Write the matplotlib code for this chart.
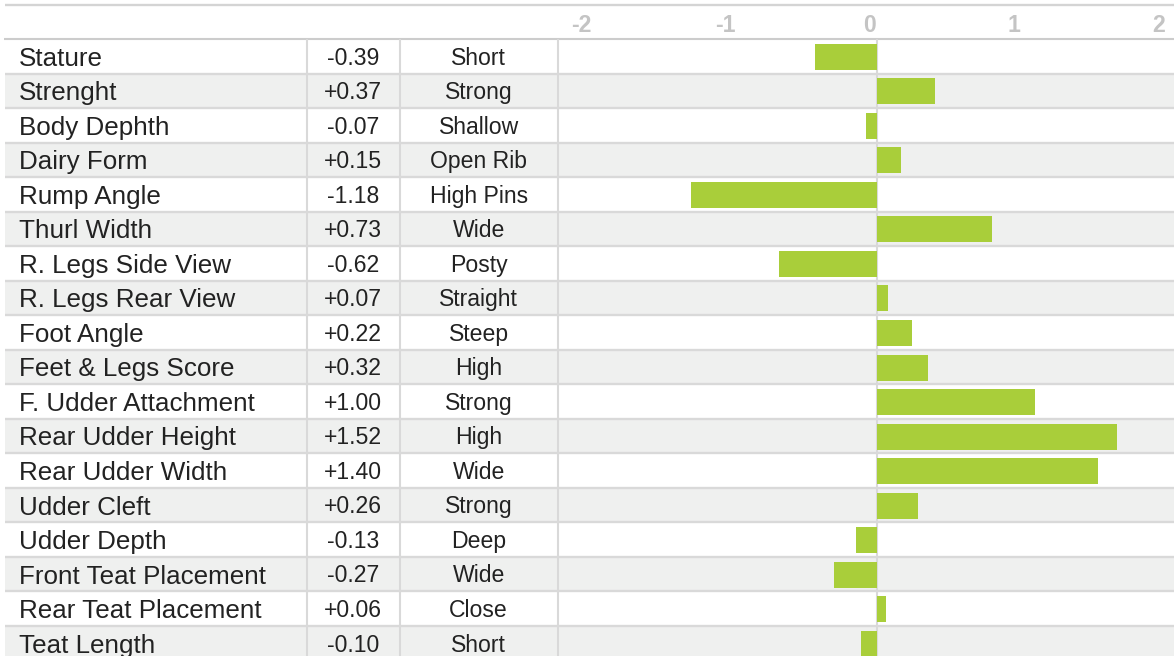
import matplotlib.pyplot as plt

plt.rcParams['font.family'] = ['Liberation Sans', 'DejaVu Sans']

# 数据
traits = ['Stature', 'Strenght', 'Body Dephth', 'Dairy Form', 'Rump Angle',
          'Thurl Width', 'R. Legs Side View', 'R. Legs Rear View', 'Foot Angle',
          'Feet & Legs Score', 'F. Udder Attachment', 'Rear Udder Height',
          'Rear Udder Width', 'Udder Cleft', 'Udder Depth',
          'Front Teat Placement', 'Rear Teat Placement', 'Teat Length']
values = [-0.39, 0.37, -0.07, 0.15, -1.18, 0.73, -0.62, 0.07, 0.22,
          0.32, 1.00, 1.52, 1.40, 0.26, -0.13, -0.27, 0.06, -0.10]
descriptors = ['Short', 'Strong', 'Shallow', 'Open Rib', 'High Pins', 'Wide',
               'Posty', 'Straight', 'Steep', 'High', 'Strong', 'High', 'Wide',
               'Strong', 'Deep', 'Wide', 'Close', 'Short']
scale_ticks = [-2, -1, 0, 1, 2]

# 版式（像素）
W, H = 1174, 656
TOP = 39          # 表头下边线
ROW_H = 34.53
COL1, COL2, COL3 = 307, 399.5, 558
ZERO_PX = 877
PX_PER_UNIT = 158
BAR_COLOR = '#a9ce3a'
BAND = '#eff0ef'
GRID = '#d9d9d9'
TXT = '#222222'

fig = plt.figure(figsize=(W / 100, H / 100), dpi=100)

# 表格部分
ax = fig.add_axes([0, 0, 1, 1])
ax.set_xlim(0, W)
ax.set_ylim(H, 0)
ax.axis('off')

for i, (name, v, d) in enumerate(zip(traits, values, descriptors)):
    top = TOP + ROW_H * i
    if i % 2 == 1:
        ax.fill_between([5, W], top, top + ROW_H, color=BAND, lw=0, zorder=0)
    c = top + ROW_H / 2
    ax.text(19, c + 0.36 * 26, name, fontsize=18.7, color=TXT, va='baseline', ha='left')
    ax.text((COL1 + COL2) / 2, c + 0.36 * 23, f'{v:+.2f}', fontsize=16.6,
            color=TXT, va='baseline', ha='center')
    ax.text((COL2 + COL3) / 2, c + 0.36 * 23, d, fontsize=16.6,
            color=TXT, va='baseline', ha='center')
    if i > 0:
        ax.hlines(top, 5, W, color=GRID, lw=1.7, zorder=1)

ax.hlines(4.5, 5, W, color='#d4d4d4', lw=1.7, zorder=1)
ax.hlines(TOP, 4, W, color='#cccccc', lw=1.5, zorder=1)
ax.vlines([COL1, COL2, COL3], TOP, H, color=GRID, lw=1.5, zorder=1)

# 条形图部分
bx = fig.add_axes([COL3 / W, 0, (W - COL3) / W, 1])
bx.patch.set_alpha(0)
bx.set_xlim((COL3 - ZERO_PX) / PX_PER_UNIT, (W - ZERO_PX) / PX_PER_UNIT)
bx.set_ylim(H, 0)
bx.axis('off')
bx.vlines(0, TOP, H, color=GRID, lw=1.5, zorder=1)
centers = [TOP + ROW_H * (i + 0.5) + 0.5 for i in range(len(values))]
bx.barh(centers, values, height=26, color=BAR_COLOR, zorder=2)

# 表头刻度
hx = fig.add_axes([COL3 / W, 0, (W - COL3) / W, 1])
hx.patch.set_alpha(0)
hx.set_xlim((COL3 - 869.8) / 144.4, (W - 869.8) / 144.4)
hx.set_ylim(H, 0)
hx.axis('off')
for t in scale_ticks:
    hx.text(t, 31.7, str(t), fontsize=16.6, fontweight='bold', color='#c4c4c4',
            ha='center', va='baseline')

fig.savefig('out.png', dpi=100)
